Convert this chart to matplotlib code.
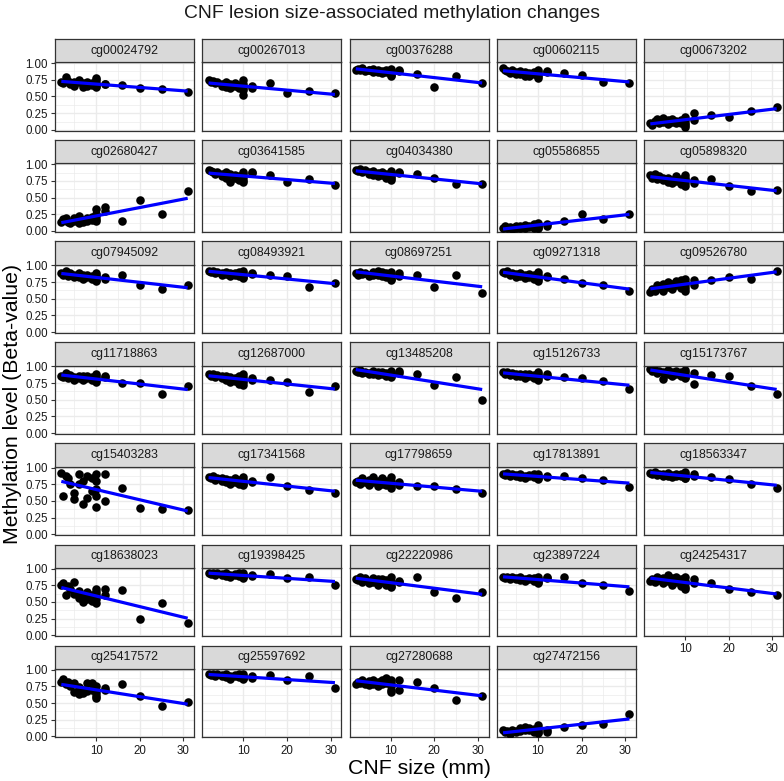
import numpy as np
import matplotlib
matplotlib.use("Agg")
import matplotlib.pyplot as plt

plt.rcParams['font.family'] = ['Liberation Sans', 'DejaVu Sans']

# CNF size (mm) of each sample
cnf_size = [2, 2.5, 3, 3.5, 4, 5, 5, 6, 6, 7, 7, 8, 8, 9, 9, 10, 10, 10, 10, 10, 12, 12, 16, 20, 25, 31]

y_cg00024792 = [0.71, 0.70, 0.79, 0.73, 0.68, 0.71, 0.66, 0.72, 0.74, 0.64, 0.70, 0.72, 0.66, 0.70, 0.67, 0.77, 0.74, 0.70, 0.66, 0.64, 0.68, 0.69, 0.67, 0.62, 0.61, 0.57]
y_cg00267013 = [0.74, 0.72, 0.73, 0.70, 0.72, 0.69, 0.66, 0.71, 0.64, 0.68, 0.62, 0.70, 0.65, 0.67, 0.62, 0.74, 0.68, 0.62, 0.60, 0.52, 0.66, 0.63, 0.70, 0.55, 0.58, 0.55]
y_cg00376288 = [0.90, 0.91, 0.89, 0.92, 0.88, 0.90, 0.89, 0.91, 0.87, 0.89, 0.86, 0.88, 0.85, 0.89, 0.86, 0.91, 0.88, 0.85, 0.82, 0.80, 0.90, 0.88, 0.835, 0.64, 0.81, 0.70]
y_cg00602115 = [0.92, 0.90, 0.88, 0.85, 0.89, 0.86, 0.83, 0.88, 0.84, 0.86, 0.81, 0.85, 0.80, 0.83, 0.86, 0.90, 0.87, 0.84, 0.81, 0.78, 0.88, 0.86, 0.85, 0.82, 0.71, 0.70]
y_cg00673202 = [0.10, 0.07, 0.13, 0.16, 0.10, 0.18, 0.12, 0.15, 0.09, 0.16, 0.12, 0.14, 0.10, 0.15, 0.11, 0.20, 0.15, 0.10, 0.07, 0.05, 0.25, 0.15, 0.22, 0.19, 0.29, 0.35]
y_cg02680427 = [0.13, 0.18, 0.20, 0.14, 0.12, 0.20, 0.15, 0.22, 0.12, 0.17, 0.13, 0.20, 0.15, 0.21, 0.16, 0.33, 0.26, 0.22, 0.18, 0.15, 0.36, 0.30, 0.15, 0.46, 0.25, 0.60]
y_cg03641585 = [0.91, 0.90, 0.88, 0.86, 0.89, 0.85, 0.83, 0.88, 0.80, 0.85, 0.73, 0.84, 0.79, 0.82, 0.77, 0.89, 0.85, 0.81, 0.77, 0.74, 0.89, 0.87, 0.84, 0.74, 0.78, 0.69]
y_cg04034380 = [0.92, 0.90, 0.93, 0.88, 0.91, 0.89, 0.86, 0.90, 0.84, 0.87, 0.82, 0.88, 0.84, 0.86, 0.80, 0.90, 0.86, 0.82, 0.79, 0.76, 0.89, 0.87, 0.86, 0.80, 0.71, 0.71]
y_cg05586855 = [0.05, 0.07, 0.04, 0.06, 0.03, 0.07, 0.05, 0.08, 0.04, 0.09, 0.05, 0.07, 0.06, 0.10, 0.05, 0.12, 0.09, 0.07, 0.05, 0.04, 0.10, 0.07, 0.15, 0.25, 0.18, 0.25]
y_cg05898320 = [0.84, 0.80, 0.86, 0.78, 0.82, 0.76, 0.80, 0.74, 0.79, 0.72, 0.77, 0.82, 0.75, 0.78, 0.70, 0.84, 0.80, 0.76, 0.72, 0.68, 0.76, 0.72, 0.78, 0.68, 0.60, 0.62]
y_cg07945092 = [0.88, 0.86, 0.91, 0.84, 0.88, 0.86, 0.82, 0.88, 0.83, 0.85, 0.80, 0.86, 0.82, 0.84, 0.79, 0.89, 0.85, 0.82, 0.78, 0.76, 0.83, 0.80, 0.85, 0.70, 0.65, 0.70]
y_cg08493921 = [0.91, 0.90, 0.92, 0.88, 0.90, 0.89, 0.86, 0.90, 0.87, 0.89, 0.84, 0.88, 0.86, 0.90, 0.84, 0.91, 0.88, 0.86, 0.83, 0.81, 0.89, 0.87, 0.86, 0.84, 0.68, 0.73]
y_cg08697251 = [0.88, 0.86, 0.90, 0.87, 0.89, 0.86, 0.84, 0.90, 0.85, 0.92, 0.86, 0.90, 0.84, 0.88, 0.82, 0.90, 0.87, 0.83, 0.80, 0.78, 0.88, 0.84, 0.86, 0.67, 0.85, 0.58]
y_cg09271318 = [0.90, 0.88, 0.92, 0.86, 0.89, 0.87, 0.83, 0.88, 0.84, 0.86, 0.81, 0.87, 0.83, 0.85, 0.80, 0.90, 0.86, 0.82, 0.79, 0.77, 0.84, 0.82, 0.80, 0.74, 0.70, 0.62]
y_cg09526780 = [0.60, 0.65, 0.62, 0.70, 0.66, 0.72, 0.62, 0.75, 0.68, 0.72, 0.64, 0.76, 0.70, 0.78, 0.66, 0.80, 0.75, 0.70, 0.66, 0.62, 0.78, 0.70, 0.78, 0.82, 0.80, 0.92]
y_cg11718863 = [0.86, 0.84, 0.90, 0.82, 0.87, 0.84, 0.80, 0.86, 0.82, 0.85, 0.80, 0.86, 0.82, 0.84, 0.79, 0.88, 0.85, 0.82, 0.79, 0.77, 0.86, 0.84, 0.75, 0.75, 0.58, 0.70]
y_cg12687000 = [0.88, 0.86, 0.89, 0.84, 0.87, 0.82, 0.86, 0.80, 0.85, 0.76, 0.84, 0.82, 0.78, 0.86, 0.74, 0.88, 0.84, 0.80, 0.76, 0.72, 0.83, 0.80, 0.80, 0.77, 0.62, 0.70]
y_cg13485208 = [0.93, 0.91, 0.94, 0.90, 0.92, 0.90, 0.88, 0.93, 0.89, 0.91, 0.87, 0.92, 0.88, 0.90, 0.86, 0.93, 0.90, 0.88, 0.86, 0.84, 0.93, 0.90, 0.88, 0.72, 0.84, 0.50]
y_cg15126733 = [0.91, 0.89, 0.92, 0.87, 0.90, 0.88, 0.85, 0.89, 0.86, 0.88, 0.83, 0.89, 0.85, 0.87, 0.82, 0.91, 0.88, 0.85, 0.82, 0.80, 0.88, 0.86, 0.84, 0.82, 0.78, 0.66]
y_cg15173767 = [0.96, 0.93, 0.95, 0.90, 0.93, 0.91, 0.81, 0.94, 0.89, 0.92, 0.86, 0.93, 0.88, 0.91, 0.85, 0.95, 0.91, 0.87, 0.84, 0.82, 0.90, 0.74, 0.87, 0.85, 0.71, 0.58]
y_cg15403283 = [0.92, 0.57, 0.88, 0.85, 0.75, 0.62, 0.53, 0.90, 0.75, 0.45, 0.80, 0.88, 0.55, 0.85, 0.65, 0.90, 0.80, 0.68, 0.58, 0.41, 0.90, 0.50, 0.70, 0.39, 0.38, 0.37]
y_cg17341568 = [0.86, 0.84, 0.88, 0.82, 0.85, 0.80, 0.84, 0.78, 0.83, 0.76, 0.81, 0.84, 0.78, 0.82, 0.75, 0.86, 0.82, 0.78, 0.76, 0.74, 0.80, 0.78, 0.86, 0.72, 0.67, 0.62]
y_cg17798659 = [0.78, 0.80, 0.76, 0.84, 0.78, 0.82, 0.74, 0.86, 0.78, 0.80, 0.72, 0.84, 0.76, 0.80, 0.74, 0.86, 0.80, 0.76, 0.72, 0.70, 0.78, 0.74, 0.72, 0.72, 0.68, 0.62]
y_cg17813891 = [0.90, 0.89, 0.92, 0.88, 0.90, 0.87, 0.89, 0.86, 0.90, 0.88, 0.85, 0.89, 0.87, 0.90, 0.86, 0.91, 0.88, 0.86, 0.84, 0.83, 0.88, 0.86, 0.88, 0.84, 0.82, 0.71]
y_cg18563347 = [0.92, 0.90, 0.93, 0.89, 0.91, 0.88, 0.90, 0.87, 0.92, 0.89, 0.86, 0.90, 0.88, 0.91, 0.87, 0.93, 0.90, 0.87, 0.85, 0.84, 0.90, 0.88, 0.86, 0.83, 0.75, 0.70]
y_cg18638023 = [0.76, 0.78, 0.60, 0.74, 0.70, 0.80, 0.62, 0.56, 0.66, 0.50, 0.58, 0.65, 0.55, 0.60, 0.52, 0.70, 0.65, 0.60, 0.55, 0.48, 0.70, 0.60, 0.68, 0.24, 0.48, 0.18]
y_cg19398425 = [0.93, 0.92, 0.94, 0.91, 0.93, 0.90, 0.92, 0.89, 0.93, 0.91, 0.88, 0.92, 0.90, 0.93, 0.89, 0.94, 0.91, 0.89, 0.87, 0.86, 0.91, 0.89, 0.92, 0.86, 0.87, 0.75]
y_cg22220986 = [0.85, 0.83, 0.88, 0.80, 0.86, 0.82, 0.78, 0.86, 0.80, 0.84, 0.76, 0.85, 0.80, 0.83, 0.75, 0.87, 0.82, 0.78, 0.74, 0.72, 0.82, 0.80, 0.88, 0.65, 0.56, 0.65]
y_cg23897224 = [0.87, 0.86, 0.88, 0.85, 0.87, 0.84, 0.86, 0.83, 0.87, 0.85, 0.82, 0.86, 0.84, 0.86, 0.82, 0.88, 0.85, 0.83, 0.80, 0.79, 0.88, 0.86, 0.88, 0.79, 0.76, 0.67]
y_cg24254317 = [0.82, 0.85, 0.80, 0.88, 0.83, 0.86, 0.78, 0.90, 0.82, 0.86, 0.75, 0.87, 0.80, 0.84, 0.74, 0.88, 0.82, 0.78, 0.72, 0.70, 0.84, 0.78, 0.78, 0.69, 0.65, 0.61]
y_cg25417572 = [0.81, 0.86, 0.78, 0.82, 0.76, 0.80, 0.66, 0.74, 0.63, 0.70, 0.65, 0.80, 0.68, 0.80, 0.70, 0.75, 0.70, 0.65, 0.60, 0.57, 0.73, 0.70, 0.78, 0.60, 0.46, 0.52]
y_cg25597692 = [0.93, 0.92, 0.94, 0.91, 0.93, 0.90, 0.92, 0.89, 0.93, 0.90, 0.86, 0.92, 0.90, 0.93, 0.89, 0.93, 0.90, 0.88, 0.87, 0.86, 0.90, 0.88, 0.92, 0.85, 0.91, 0.73]
y_cg27280688 = [0.79, 0.82, 0.80, 0.84, 0.78, 0.83, 0.77, 0.85, 0.79, 0.82, 0.75, 0.84, 0.78, 0.88, 0.80, 0.85, 0.80, 0.75, 0.70, 0.67, 0.85, 0.70, 0.81, 0.73, 0.55, 0.61]
y_cg27472156 = [0.09, 0.06, 0.08, 0.04, 0.10, 0.08, 0.06, 0.12, 0.08, 0.14, 0.09, 0.13, 0.10, 0.11, 0.07, 0.17, 0.12, 0.10, 0.07, 0.05, 0.07, 0.09, 0.14, 0.17, 0.185, 0.34]

probes = ["cg00024792", "cg00267013", "cg00376288", "cg00602115", "cg00673202",
          "cg02680427", "cg03641585", "cg04034380", "cg05586855", "cg05898320",
          "cg07945092", "cg08493921", "cg08697251", "cg09271318", "cg09526780",
          "cg11718863", "cg12687000", "cg13485208", "cg15126733", "cg15173767",
          "cg15403283", "cg17341568", "cg17798659", "cg17813891", "cg18563347",
          "cg18638023", "cg19398425", "cg22220986", "cg23897224", "cg24254317",
          "cg25417572", "cg25597692", "cg27280688", "cg27472156"]
beta_values = [y_cg00024792, y_cg00267013, y_cg00376288, y_cg00602115, y_cg00673202,
               y_cg02680427, y_cg03641585, y_cg04034380, y_cg05586855, y_cg05898320,
               y_cg07945092, y_cg08493921, y_cg08697251, y_cg09271318, y_cg09526780,
               y_cg11718863, y_cg12687000, y_cg13485208, y_cg15126733, y_cg15173767,
               y_cg15403283, y_cg17341568, y_cg17798659, y_cg17813891, y_cg18563347,
               y_cg18638023, y_cg19398425, y_cg22220986, y_cg23897224, y_cg24254317,
               y_cg25417572, y_cg25597692, y_cg27280688, y_cg27472156]

x_ticks = [10, 20, 30]
y_ticks = [0.0, 0.25, 0.5, 0.75, 1.0]
y_ticklabels = ["0.00", "0.25", "0.50", "0.75", "1.00"]

W, H = 784, 781
fig = plt.figure(figsize=(W / 100, H / 100), dpi=100)

ncol = 5
n = len(probes)
left0, col_step, pw = 55.0, 147.25, 139.0
top0, row_step, ph = 62.3, 101.1, 68.4
strip_h = 23.3
border = '#333333'
grid_c = '#EBEBEB'

xarr = np.array(cnf_size, dtype=float)
xmin, xmax = xarr.min(), xarr.max()
xpad = 0.05 * (xmax - xmin)

for i, (name, yv) in enumerate(zip(probes, beta_values)):
    r, c = divmod(i, ncol)
    left = left0 + c * col_step
    top = top0 + r * row_step
    ax = fig.add_axes([left / W, 1 - (top + ph) / H, pw / W, ph / H])
    yarr = np.array(yv, dtype=float)
    ax.set_xlim(xmin - xpad, xmax + xpad)
    ax.set_ylim(-0.012, 1.012)
    for gx in [5, 15, 25]:
        ax.axvline(gx, color=grid_c, lw=0.5, zorder=0)
    for gx in x_ticks:
        ax.axvline(gx, color=grid_c, lw=1.0, zorder=0)
    for gy in [0.125, 0.375, 0.625, 0.875]:
        ax.axhline(gy, color=grid_c, lw=0.5, zorder=0)
    for gy in y_ticks:
        ax.axhline(gy, color=grid_c, lw=1.0, zorder=0)
    ax.scatter(xarr, yarr, s=38, color='black', linewidths=0, zorder=3)
    slope, icpt = np.polyfit(xarr, yarr, 1)
    xl = np.array([xmin, xmax])
    ax.plot(xl, icpt + slope * xl, color='#0000FF', lw=2.3, zorder=4,
            solid_capstyle='butt')
    for sp in ax.spines.values():
        sp.set_color(border)
        sp.set_linewidth(0.9)
    ax.set_xticks(x_ticks)
    ax.set_yticks(y_ticks)
    ax.tick_params(axis='both', length=3.2, width=0.8, color=border,
                   labelsize=8.3, labelcolor='#1A1A1A', pad=2)
    if c == 0:
        ax.set_yticklabels(y_ticklabels)
    else:
        ax.tick_params(axis='y', left=False, labelleft=False)
    if i + ncol >= n:
        ax.set_xticklabels([str(t) for t in x_ticks])
    else:
        ax.tick_params(axis='x', bottom=False, labelbottom=False)
    sax = fig.add_axes([left / W, 1 - top / H, pw / W, strip_h / H])
    sax.set_facecolor('#D9D9D9')
    sax.set_xticks([])
    sax.set_yticks([])
    for sp in sax.spines.values():
        sp.set_color(border)
        sp.set_linewidth(0.9)
    sax.text(0.5, 0.5, name, ha='center', va='center', fontsize=8.9,
             color='#1A1A1A', transform=sax.transAxes)

fig.text(0.5, 1 - 13 / H, "CNF lesion size-associated methylation changes",
         ha='center', va='center', fontsize=13.9, color='#1A1A1A')
grid_mid_x = (left0 + left0 + 4 * col_step + pw) / 2
fig.text(grid_mid_x / W, 1 - 768 / H, "CNF size (mm)", ha='center', va='center',
         fontsize=15.3, color='black')
fig.text(13 / W, 1 - 404 / H, "Methylation level (Beta-value)", ha='center',
         va='center', rotation=90, fontsize=15.3, color='black')

fig.savefig("out.png", dpi=100, facecolor='white')
